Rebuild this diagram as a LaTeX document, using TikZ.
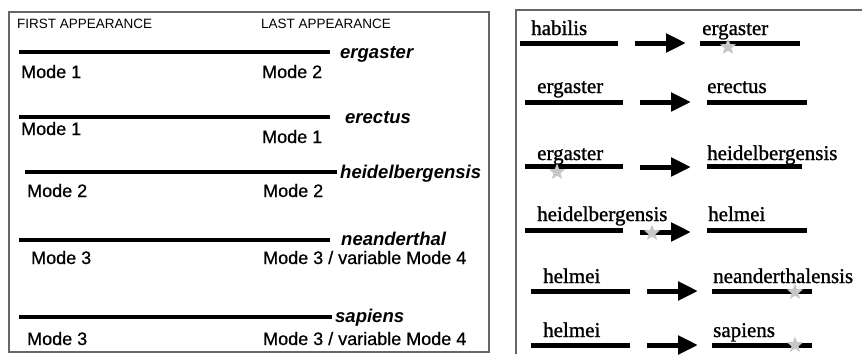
\documentclass[tikz,border=0pt]{standalone}
\usepackage{fontspec}
\setmainfont{Liberation Serif}
\newfontfamily\arialf{Liberation Sans}
\newfontfamily\arialm[FakeBold=0.7]{Liberation Sans}
\newfontfamily\timesm[FakeBold=1.1]{Liberation Serif}
\usetikzlibrary{arrows.meta,shapes.geometric}
\tikzset{
  frame/.style={draw=black!60, line width=1.2pt},
  bar/.style={line width=4pt, black},
  rbar/.style={line width=5pt, black},
  hdr/.style={anchor=base west, inner sep=0pt, font=\arialf\fontsize{13.5}{15}\selectfont},
  mode/.style={anchor=base west, inner sep=0pt, font=\arialm\fontsize{18}{20}\selectfont},
  spec/.style={anchor=base west, inner sep=0pt, font=\arialf\bfseries\itshape\fontsize{18.5}{20}\selectfont},
  tname/.style={anchor=base west, inner sep=0pt, font=\timesm\fontsize{21}{23}\selectfont},
  evo/.style={line width=5pt, -{Triangle[length=20pt,width=18pt]}},
  starmark/.style={star, star points=5, star point ratio=2.3, minimum size=17pt, inner sep=0pt, fill=black!22}
}
\begin{document}
\begin{tikzpicture}[x=1pt,y=-1pt]
\useasboundingbox (0,0) rectangle (862,354);
% ---------- left panel ----------
\draw[frame] (9,12) rectangle (489,352);
\node[hdr] (fa) at (17,28) {FIRST APPEARANCE};
\node[hdr] (la) at (261,28) {LAST APPEARANCE};
% ergaster
\coordinate (l1a) at (19,52); \coordinate (l1b) at (330,52);
\draw[bar] (l1a) -- (l1b);
\node[spec] (s1) at (340,58) {ergaster};
\node[mode] (m1a) at (21,78) {Mode 1};
\node[mode] (m1b) at (262,78) {Mode 2};
% erectus
\coordinate (l2a) at (19,117); \coordinate (l2b) at (330,117);
\draw[bar] (l2a) -- (l2b);
\node[spec] (s2) at (345,123) {erectus};
\node[mode] (m2a) at (21,135) {Mode 1};
\node[mode] (m2b) at (262,143) {Mode 1};
% heidelbergensis
\coordinate (l3a) at (25,172); \coordinate (l3b) at (337,172);
\draw[bar] (l3a) -- (l3b);
\node[spec] (s3) at (340,178) {heidelbergensis};
\node[mode] (m3a) at (27,197) {Mode 2};
\node[mode] (m3b) at (263,197) {Mode 2};
% neanderthal
\coordinate (l4a) at (19,240); \coordinate (l4b) at (330,240);
\draw[bar] (l4a) -- (l4b);
\node[spec] (s4) at (341,245) {neanderthal};
\node[mode] (m4a) at (31,264) {Mode 3};
\node[mode] (m4b) at (263,264) {Mode 3 / variable Mode 4};
% sapiens
\coordinate (l5a) at (19,317); \coordinate (l5b) at (332,317);
\draw[bar] (l5a) -- (l5b);
\node[spec] (s5) at (335,322) {sapiens};
\node[mode] (m5a) at (27,345) {Mode 3};
\node[mode] (m5b) at (263,345) {Mode 3 / variable Mode 4};
% ---------- right panel ----------
\coordinate (fr1) at (516,354); \coordinate (fr2) at (516,10); \coordinate (fr3) at (862,10);
\draw[frame] (fr1) -- (fr2) -- (fr3);
% row 1
\node[tname] (r1a) at (531,35) {habilis};
\draw[rbar] (520,43) -- (618,43);
\coordinate (a1s) at (635,43); \coordinate (a1e) at (686,43);
\draw[evo] (a1s) -- (a1e);
\node[tname] (r1b) at (702,35) {ergaster};
\draw[rbar] (700,43) -- (800,43);
\node[starmark] (st1) at (728,47) {};
% row 2
\node[tname] (r2a) at (537,93) {ergaster};
\draw[rbar] (525,102) -- (623,102);
\coordinate (a2s) at (640,102); \coordinate (a2e) at (691,102);
\draw[evo] (a2s) -- (a2e);
\node[tname] (r2b) at (707,93) {erectus};
\draw[rbar] (707,102) -- (807,102);
% row 3
\node[tname] (r3a) at (537,160) {ergaster};
\draw[rbar] (525,166) -- (623,166);
\node[starmark] (st2) at (557,172) {};
\coordinate (a3s) at (640,167); \coordinate (a3e) at (691,167);
\draw[evo] (a3s) -- (a3e);
\node[tname] (r3b) at (707,160) {heidelbergensis};
\draw[rbar] (707,166) -- (802,166);
% row 4
\node[tname] (r4a) at (537,221) {heidelbergensis};
\draw[rbar] (525,230) -- (623,230);
\coordinate (a4s) at (640,232); \coordinate (a4e) at (691,232);
\draw[evo] (a4s) -- (a4e);
\node[starmark] (st3) at (652,233) {};
\node[tname] (r4b) at (708,221) {helmei};
\draw[rbar] (707,230) -- (807,230);
% row 5
\node[tname] (r5a) at (543,283) {helmei};
\draw[rbar] (531,291) -- (630,291);
\coordinate (a5s) at (647,291); \coordinate (a5e) at (698,291);
\draw[evo] (a5s) -- (a5e);
\node[tname] (r5b) at (713,283) {neanderthalensis};
\draw[rbar] (712,291) -- (812,291);
\node[starmark] (st4) at (795,292) {};
% row 6
\node[tname] (r6a) at (543,337) {helmei};
\draw[rbar] (531,345) -- (630,345);
\coordinate (a6s) at (647,345); \coordinate (a6e) at (698,345);
\draw[evo] (a6s) -- (a6e);
\node[tname] (r6b) at (713,337) {sapiens};
\draw[rbar] (712,345) -- (812,345);
\node[starmark] (st5) at (795,345) {};
\end{tikzpicture}
\end{document}
